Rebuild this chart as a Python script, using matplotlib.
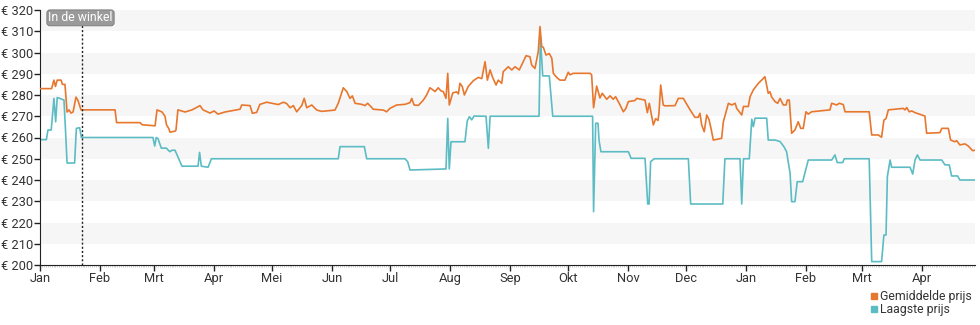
import matplotlib
matplotlib.use("Agg")
import matplotlib.pyplot as plt
import matplotlib.dates as mdates
from matplotlib.lines import Line2D
import pandas as pd

plt.rcParams['font.family'] = ['Roboto', 'DejaVu Sans']

start = pd.Timestamp("2023-01-01")

# gemiddelde prijs: dag sinds start, prijs
avg_days = [0, 6.0, 7.2, 8.0, 8.9, 10.9, 11.6, 12.9, 14.0, 15.0, 16.0, 17.1, 18.6, 19.6, 21.2, 38.8, 39.6,
            51.7, 52.8, 59.5, 60.5, 63.1, 64.6, 65.4, 66.7, 67.2, 69.8, 70.3, 71.3, 75, 78.6, 82.7, 84.3,
            87.9, 90, 92, 95.6, 99.3, 103.4, 104.3, 108.6, 109.8, 112, 113.7, 117.2, 123.2, 125.8, 127.5,
            129.3, 131, 132.7, 135.3, 136.6, 137.9, 140.5, 143.1, 145.6, 152.5, 154.2, 156.8, 158.6, 160.3,
            161.5, 162.9, 166.3, 168, 169.4, 171, 172.3, 177.5, 179.2, 180.9, 184.4, 188.7, 191.3, 192.2,
            193.4, 195.6, 198.2, 199.9, 201.6, 203, 204.2, 205.9, 207.2, 208.5, 209.9, 210.8, 211.6, 213.4,
            215.4, 216.3, 217.1, 218.3, 219.4, 221.4, 224, 226.6, 228.4, 230.1, 231.3, 232.7, 234, 235.8,
            236.9, 238.7, 239.5, 242.1, 243.9, 245.6, 247.8, 249, 251.3, 253.3, 254.2, 255.9, 257.6, 258.5,
            259.4, 260.2, 261.6, 263.3, 264.6, 265.4, 267.1, 268.8, 271.4, 273.1, 274, 275.7, 284.4, 285.2,
            286.2, 287.8, 289.5, 290.7, 293, 294.7, 296.4, 297.6, 299.9, 301.6, 302.9, 304.2, 307.6, 308.5,
            312.8, 314, 315, 316.3, 317.1, 318.3, 319.5, 320, 320.9, 322.2, 323.1, 328.3, 330, 332.6, 336.1,
            338.6, 340.3, 341.2, 342.1, 343.4, 344.7, 345.9, 346.9, 348.1, 352.4, 353.3, 355, 355.9, 357.6,
            359.4, 360.2, 362.8, 363.7, 366.2, 367.1, 368.8, 371.4, 373.1, 374.8, 376.5, 377.4, 378.3, 380,
            381.4, 382.6, 384.3, 385.7, 386.4, 387.4, 388.6, 390.3, 392, 393.3, 394.6, 396, 397.2, 398.9,
            408.4, 409.3, 411.9, 413.2, 415.3, 416.2, 428.7, 430, 433.4, 435.1, 436.3, 437.4, 438.6, 446.3,
            447.2, 448.1, 449.4, 450.7, 452.4, 455.8, 457.5, 458.4, 465.3, 466.2, 469.6, 470.8, 473, 473.9,
            475.6, 478.2, 479.9, 482.2, 483.4]
avg_price = [283, 283, 287, 284, 287, 287, 285, 285, 272, 273, 271.5, 272, 279, 277.5, 273, 273, 267,
             267, 266, 265.5, 273, 272, 270, 266, 264, 262.5, 263, 263.5, 273, 272, 273, 275, 273,
             271.5, 272.5, 271, 272, 272.6, 273.3, 275.3, 275, 271.4, 271.8, 275.6, 276.6, 275.5, 276.6, 276,
             274, 275, 272.1, 275, 278.4, 274, 275.3, 272.9, 272.3, 272.9, 276.1, 283.4, 281.6, 278.4,
             279.6, 276.1, 275.6, 275, 276.1, 274.6, 273.3, 272.9, 272.1, 273.7, 275.3, 275.6, 276.4, 278.4,
             275.3, 275.1, 277.6, 280, 283.4, 282.5, 281.6, 283.4, 282, 281.6, 278.4, 290.2, 275.3, 281,
             281.5, 280.5, 285.5, 284, 280, 284, 286.7, 288.3, 287.7, 295.7, 287, 291.8, 288.3, 284.7,
             287, 285.5, 291, 293.3, 291.8, 293.3, 291.8, 294.1, 298.5, 298, 294.1, 292.5, 300.4, 312.2,
             302.7, 302.5, 298.8, 299.5, 297.3, 290.2, 288.3, 287, 287, 290.7, 289.5, 290.2, 290.2, 289.5,
             274, 284.2, 278.6, 280.8, 278, 279.6, 278, 279.2, 275.3, 272.1, 273.7, 276.9, 277.4, 278.4,
             277.6, 271.7, 276.1, 269.8, 265.9, 268.9, 268, 271.4, 284.7, 275.3, 274.9, 275, 278.4, 278.4, 273,
             269.5, 269.5, 271.4, 265.9, 262.7, 270.6, 268.4, 264.3, 258.8, 259.6, 267.4, 273, 276.1, 275.3,
             276.1, 273.7, 270.6, 274.6, 274.6, 279.2, 282.4, 285.5, 287, 288.6, 280.8, 281.5, 279, 276.9,
             276.1, 278.4, 275.3, 275.3, 277.6, 277.6, 262, 263.5, 267.4, 264.3, 264.3, 272.1, 271, 272.1,
             273, 276.1, 275.3, 276.1, 275.5, 272.1, 272.1, 261.2, 261.2, 260.1, 268.2, 268.9, 273, 273.7,
             273, 274.1, 272.1, 272.5, 271.7, 270.6, 270.1, 262, 262.3, 264.3, 264.3, 258.8, 258, 258.5,
             256.5, 257, 256, 253.8, 254]

# laagste prijs
low_days = [0, 3.3, 4.1, 5.8, 7.2, 8.1, 8.9, 10.2, 12.4, 13.1, 14, 17.9, 18.8, 20.5, 21.4, 58.4, 59.3,
            60.1, 61, 62.7, 65.3, 67.1, 68.2, 69.8, 73.4, 81.7, 82.5, 83.4, 86.9, 88.6, 154.2, 155.1, 167.7,
            168.9, 188.7, 190.1, 191.3, 209.9, 210.8, 211.6, 212.5, 219.7, 220.9, 222, 223.2, 224.4, 230.6,
            231.8, 232.7, 258, 258.7, 259.9, 263.3, 265.1, 285.7, 286.2, 287.3, 288.5, 289, 290, 304.2,
            305.6, 312.8, 314.2, 314.9, 315.7, 317.5, 335.2, 336.4, 353, 354.1, 361.9, 362.8, 363.7, 366.7,
            368, 368.8, 369.7, 375.7, 376.5, 380, 382.6, 384.6, 386, 387.8, 388.6, 390.3, 391.5, 394.3,
            397.2, 409.3, 411, 412.2, 415, 415.8, 428.7, 430, 435.1, 436.3, 437.4, 438.1, 439.5, 440.3,
            449.8, 451.2, 452.4, 453.6, 455, 466.2, 467.9, 470.1, 471.3, 474.4, 475.6, 483.4]
low_price = [259, 259, 263.5, 263.5, 278.4, 267.4, 278.8, 278.4, 277.6, 265, 248, 248, 264.3, 264.6, 260,
             260, 256, 260, 259.5, 255, 255, 253.3, 254, 254, 246.5, 246.5, 253, 246.5, 246, 250, 250,
             255.7, 255.7, 250, 250, 248.6, 244.7, 245.2, 269, 245.2, 258, 258, 267.8, 269.8, 268.3, 270.1,
             270, 254.9, 270, 270, 307.5, 289, 289, 270, 270, 225.1, 266.7, 266.7, 258.8, 253.3, 253.3,
             250.2, 250.2, 228.7, 228.7, 248.6, 250, 250, 228.7, 228.7, 250, 250, 228.7, 250, 250, 268.6,
             265.1, 269.1, 269.1, 258.8, 258.8, 258.1, 255.7, 253.3, 243.1, 229.8, 229.8, 239.2, 239.2,
             249.4, 249.4, 251.8, 248.2, 248.2, 250, 250, 201.6, 201.6, 214.1, 214.1, 241.6, 249.4, 246,
             246, 242.8, 249.4, 251.8, 249.4, 249.4, 247.1, 247.1, 241.9, 241.9, 240, 240]

store_day = 21.5
months = ["Jan", "Feb", "Mrt", "Apr", "Mei", "Jun", "Jul", "Aug", "Sep", "Okt", "Nov", "Dec",
          "Jan", "Feb", "Mrt", "Apr"]

avg_x = start + pd.to_timedelta(avg_days, unit="D")
low_x = start + pd.to_timedelta(low_days, unit="D")
end = start + pd.Timedelta(days=483.4)

fig = plt.figure(figsize=(9.8, 3.25), dpi=100)
ax = fig.add_axes([40 / 980, 1 - 265 / 325, 935 / 980, 255 / 325])

# grijze banden
for lo in range(310, 199, -20):
    ax.axhspan(lo, lo + 10, color="#f6f6f6", zorder=0, lw=0)

ax.plot(avg_x, avg_price, color="#e8772e", lw=1.2, zorder=3)
ax.plot(low_x, low_price, color="#5bbcc4", lw=1.2, zorder=2)

ax.axvline(start + pd.Timedelta(days=store_day), color="#222222", lw=1, ls=(0, (1.5, 1.5)), zorder=4)
ax.text(start + pd.Timedelta(days=4.3), 316.3, "In de winkel", fontsize=8.8, color="white",
        va="center", ha="left", zorder=5,
        bbox=dict(boxstyle="round,pad=0.12,rounding_size=0.25", fc="#9a9a9a", ec="#777777", lw=0.6))

ax.set_xlim(start, end)
ax.set_ylim(200, 320)
ax.set_yticks(range(200, 321, 10))
ax.set_yticklabels([f"€ {v}" for v in range(200, 321, 10)])

ticks = pd.date_range(start, periods=len(months), freq="MS")
ax.set_xticks(ticks)
ax.set_xticklabels(months)
ax.xaxis.set_minor_locator(mdates.DayLocator())

for s in ["top", "right"]:
    ax.spines[s].set_visible(False)
ax.spines["left"].set_color("#222222")
ax.spines["bottom"].set_color("#222222")
ax.tick_params(axis="both", which="major", length=4, width=1, color="#222222",
               labelsize=9.3, labelcolor="#333333", pad=1)
ax.tick_params(axis="x", which="minor", length=1.5, width=0.5, color="#bbbbbb")

handles = [Line2D([], [], marker="s", ls="", color="#e8772e", markersize=5),
           Line2D([], [], marker="s", ls="", color="#5bbcc4", markersize=5)]
fig.legend(handles, ["Gemiddelde prijs", "Laagste prijs"], loc="lower right",
           bbox_to_anchor=(1.0, 0.0), frameon=False, fontsize=8.8, labelcolor="#333333",
           handletextpad=0.1, handlelength=0.8, labelspacing=0.0, borderaxespad=0.3)

fig.savefig("out.png", dpi=100)
